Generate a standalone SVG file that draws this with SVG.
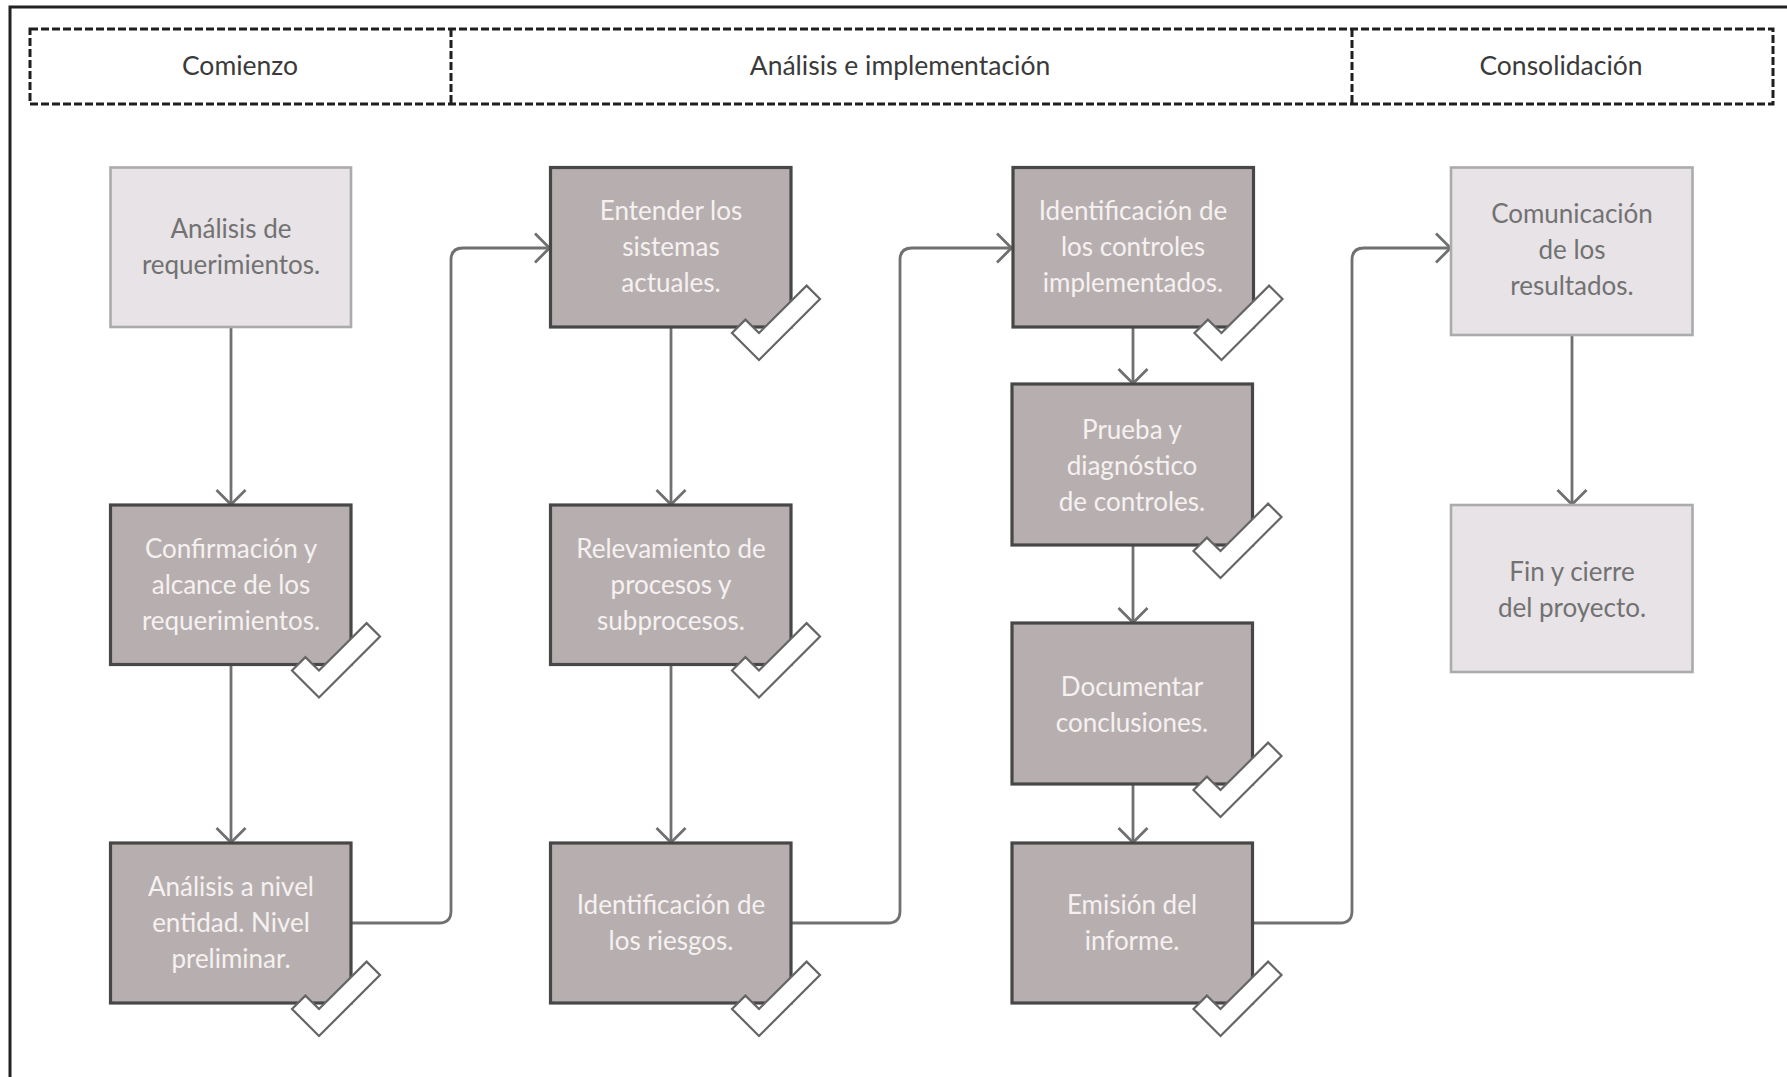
<svg xmlns="http://www.w3.org/2000/svg" xmlns:xlink="http://www.w3.org/1999/xlink" width="1787" height="1077" viewBox="0 0 1787 1077">
  <style>
    .frame { fill: none; stroke: #222; stroke-width: 3; }
    .phase { fill: none; stroke: #1e1e1e; stroke-width: 3; stroke-dasharray: 8 3; }
    .phase-label { font-family: Lato, "Noto Sans", sans-serif; font-size: 26.5px; fill: #3a3a3a; text-anchor: middle; }
    .done rect { fill: #b7afaf; stroke: #474747; stroke-width: 3.2; }
    .todo rect { fill: #e7e3e6; stroke: #ababab; stroke-width: 2.6; }
    .done text { font-family: Lato, "Noto Sans", sans-serif; font-size: 26px; fill: #f6f1f1; text-anchor: middle; }
    .todo text { font-family: Lato, "Noto Sans", sans-serif; font-size: 26px; fill: #727272; text-anchor: middle; }
    .tick { fill: #ffffff; stroke: #656565; stroke-width: 2.2; stroke-linejoin: miter; }
    .link { fill: none; stroke: #707070; stroke-width: 2.8; marker-end: url(#arrow); }
  </style>
  <defs>
    <marker id="arrow" viewBox="0 0 17 32" refX="16" refY="16" markerWidth="17" markerHeight="32" markerUnits="userSpaceOnUse" orient="auto">
      <path d="M1,1.5 L15.5,16 L1,30.5" fill="none" stroke="#707070" stroke-width="2.8"/>
    </marker>
    <!-- check mark, anchored at a box's bottom-right corner -->
    <polygon id="tick" class="tick" points="-32,6 -45.6,-7.4 -59,6 -32,33 29,-28 15.6,-41.4"/>
  </defs>

  <rect width="1787" height="1077" fill="#ffffff"/>
  <rect class="frame" x="10" y="7" width="1800" height="1100"/>

  <!-- phase header -->
  <g id="phases">
    <rect class="phase" x="30" y="29" width="1743" height="75"/>
    <line class="phase" x1="451" y1="29" x2="451" y2="104"/>
    <line class="phase" x1="1352" y1="29" x2="1352" y2="104"/>
    <text class="phase-label" x="240" y="75">Comienzo</text>
    <text class="phase-label" x="900" y="75">Análisis e implementación</text>
    <text class="phase-label" x="1561" y="75">Consolidación</text>
  </g>

  <!-- connectors -->
  <g id="connectors">
    <path class="link" d="M231,327 V505"/>
    <path class="link" d="M231,664.5 V843"/>
    <path class="link" d="M351,923 H439 Q451,923 451,911 V260 Q451,248 463,248 H550"/>
    <path class="link" d="M671,327 V505"/>
    <path class="link" d="M671,664.5 V843"/>
    <path class="link" d="M791,923 H888 Q900,923 900,911 V260 Q900,248 912,248 H1012"/>
    <path class="link" d="M1133,327 V384"/>
    <path class="link" d="M1133,545 V623"/>
    <path class="link" d="M1133,784 V843"/>
    <path class="link" d="M1253,923 H1340 Q1352,923 1352,911 V260 Q1352,248 1364,248 H1451"/>
    <path class="link" d="M1572,335 V505"/>
  </g>

  <!-- column 1 -->
  <g id="n-analisis-req" class="todo">
    <rect x="110.5" y="167.5" width="240.5" height="159.5"/>
    <text x="231" y="238">Análisis de</text>
    <text x="231" y="274">requerimientos.</text>
  </g>
  <g id="n-confirmacion" class="done">
    <rect x="110.5" y="505" width="240.5" height="159.5"/>
    <text x="231" y="558">Confirmación y</text>
    <text x="231" y="594">alcance de los</text>
    <text x="231" y="630">requerimientos.</text>
    <use xlink:href="#tick" x="351" y="664.5"/>
  </g>
  <g id="n-nivel-entidad" class="done">
    <rect x="110.5" y="843" width="240.5" height="160"/>
    <text x="231" y="896">Análisis a nivel</text>
    <text x="231" y="932">entidad. Nivel</text>
    <text x="231" y="968">preliminar.</text>
    <use xlink:href="#tick" x="351" y="1003"/>
  </g>

  <!-- column 2 -->
  <g id="n-sistemas" class="done">
    <rect x="550.5" y="167.5" width="240.5" height="159.5"/>
    <text x="671" y="220">Entender los</text>
    <text x="671" y="256">sistemas</text>
    <text x="671" y="292">actuales.</text>
    <use xlink:href="#tick" x="791" y="327"/>
  </g>
  <g id="n-procesos" class="done">
    <rect x="550.5" y="505" width="240.5" height="159.5"/>
    <text x="671" y="558">Relevamiento de</text>
    <text x="671" y="594">procesos y</text>
    <text x="671" y="630">subprocesos.</text>
    <use xlink:href="#tick" x="791" y="664.5"/>
  </g>
  <g id="n-riesgos" class="done">
    <rect x="550.5" y="843" width="240.5" height="160"/>
    <text x="671" y="914">Identificación de</text>
    <text x="671" y="950">los riesgos.</text>
    <use xlink:href="#tick" x="791" y="1003"/>
  </g>

  <!-- column 3 -->
  <g id="n-controles" class="done">
    <rect x="1013" y="167.5" width="240.5" height="159.5"/>
    <text x="1133" y="220">Identificación de</text>
    <text x="1133" y="256">los controles</text>
    <text x="1133" y="292">implementados.</text>
    <use xlink:href="#tick" x="1253.5" y="327"/>
  </g>
  <g id="n-prueba" class="done">
    <rect x="1012" y="384" width="240.5" height="161"/>
    <text x="1132" y="439">Prueba y</text>
    <text x="1132" y="475">diagnóstico</text>
    <text x="1132" y="511">de controles.</text>
    <use xlink:href="#tick" x="1252.5" y="545"/>
  </g>
  <g id="n-documentar" class="done">
    <rect x="1012" y="623" width="240.5" height="161"/>
    <text x="1132" y="696">Documentar</text>
    <text x="1132" y="732">conclusiones.</text>
    <use xlink:href="#tick" x="1252.5" y="784"/>
  </g>
  <g id="n-informe" class="done">
    <rect x="1012" y="843" width="240.5" height="160"/>
    <text x="1132" y="914">Emisión del</text>
    <text x="1132" y="950">informe.</text>
    <use xlink:href="#tick" x="1252.5" y="1003"/>
  </g>

  <!-- column 4 -->
  <g id="n-comunicacion" class="todo">
    <rect x="1451" y="167.5" width="241.5" height="167.5"/>
    <text x="1572" y="223">Comunicación</text>
    <text x="1572" y="259">de los</text>
    <text x="1572" y="295">resultados.</text>
  </g>
  <g id="n-cierre" class="todo">
    <rect x="1451" y="505" width="241.5" height="167"/>
    <text x="1572" y="581">Fin y cierre</text>
    <text x="1572" y="617">del proyecto.</text>
  </g>
</svg>
